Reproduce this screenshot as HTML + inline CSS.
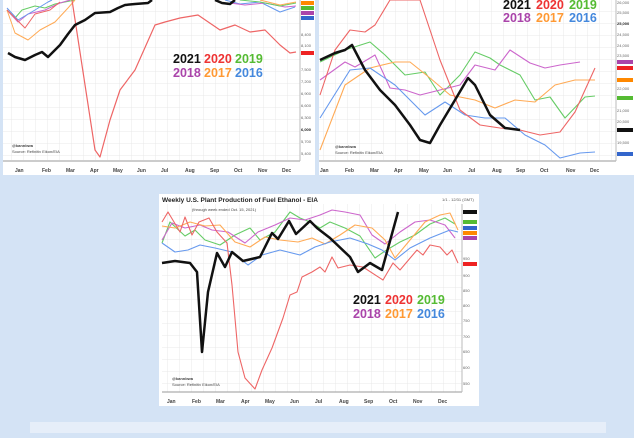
<!DOCTYPE html>
<html><head><style>
html,body{margin:0;padding:0;}
body{width:634px;height:433px;background:#d4e3f5;overflow:hidden;font-family:"Liberation Sans",sans-serif;}
</style></head><body>
<svg width="634" height="433" viewBox="0 0 634 433" xmlns="http://www.w3.org/2000/svg" font-family="Liberation Sans, sans-serif">
<defs>
<pattern id="g" width="12" height="12" patternUnits="userSpaceOnUse">
<path d="M12 0V12M0 12H12" stroke="#e2e2e2" stroke-width="0.7" fill="none"/>
</pattern>
</defs>
<rect x="30" y="422" width="576" height="11" fill="#e6eef9"/>
<!-- Left chart -->
<rect x="3" y="0" width="312" height="175" fill="#fff"/>
<rect x="3" y="0" width="297" height="160" fill="url(#g)"/>
<line x1="3" y1="161" x2="300" y2="161" stroke="#999"/>
<line x1="300" y1="0" x2="300" y2="161" stroke="#bbb"/>
<g font-size="5" fill="#444" font-weight="bold">
<text x="15" y="172">Jan</text><text x="42" y="172">Feb</text><text x="66" y="172">Mar</text><text x="90" y="172">Apr</text><text x="113" y="172">May</text><text x="137" y="172">Jun</text><text x="161" y="172">Jul</text><text x="185" y="172">Aug</text><text x="210" y="172">Sep</text><text x="234" y="172">Oct</text><text x="258" y="172">Nov</text><text x="282" y="172">Dec</text>
</g>
<g font-size="4" fill="#666"><text x="301" y="36">8,400</text><text x="301" y="47">8,100</text><text x="301" y="71">7,500</text><text x="301" y="83">7,200</text><text x="301" y="95">6,900</text><text x="301" y="107">6,600</text><text x="301" y="119">6,300</text><text x="301" y="131" font-weight="bold" fill="#222">6,000</text><text x="301" y="143">5,700</text><text x="301" y="155">5,400</text></g>
<rect x="301" y="1" width="13" height="4" fill="#f80"/><rect x="301" y="6" width="13" height="4" fill="#5b3"/><rect x="301" y="11" width="13" height="4" fill="#a4a"/><rect x="301" y="16" width="13" height="4" fill="#36c"/><rect x="301" y="51" width="13" height="4" fill="#e22"/>
<g fill="none" stroke-linejoin="round">
<polyline stroke="#6c6" stroke-width="1" points="7,10 15,18 22,10 35,6 45,8 55,4 65,2 75,0"/>
<polyline stroke="#c6c" stroke-width="1" points="7,10 18,22 28,14 45,10 60,3 70,0"/>
<polyline stroke="#fa5" stroke-width="1" points="7,10 15,33 28,40 40,30 55,22 68,8 75,0"/>
<polyline stroke="#69e" stroke-width="1" points="7,8 18,20 35,10 48,2 52,0"/>
<polyline stroke="#e66" stroke-width="1" points="7,10 25,28 35,14 50,10 60,2"/>
<polyline stroke="#69e" stroke-width="1" points="225,0 240,4 260,2 280,12 295,7"/>
<polyline stroke="#c6c" stroke-width="1" points="230,3 245,5 265,3 285,7 296,6"/>
<polyline stroke="#6c6" stroke-width="1" points="240,0 260,2 280,6 296,3"/>
<polyline stroke="#fa5" stroke-width="1" points="260,0 280,5 296,2"/>
<polyline stroke="#e66" stroke-width="1.2" points="72,0 95,150 100,157 110,120 120,90 135,70 155,25 165,22 180,18 198,15 220,30 235,25 250,32 265,30 280,45 290,53 296,52"/>
<polyline stroke="#111" stroke-width="2.5" points="8,53 15,57 25,60 35,55 42,52 48,57 60,45 68,34 75,25 85,20 95,13 110,12 118,8 125,5 135,4 148,3 152,0"/>
<polyline stroke="#111" stroke-width="2.5" points="215,0 222,3 230,4 235,0"/>
</g>
<g font-size="12.5" font-weight="bold"><text x="173" y="63" fill="#111">2021</text><text x="204" y="63" fill="#e33">2020</text><text x="235" y="63" fill="#5b3">2019</text>
<text x="173" y="77" fill="#a4a">2018</text><text x="204" y="77" fill="#f93">2017</text><text x="235" y="77" fill="#48d">2016</text></g>
<g font-size="4" fill="#444"><text x="12" y="147" font-weight="bold">@kannbwa</text><text x="12" y="153">Source: Refinitiv Eikon/EIA</text></g>
<!-- Right chart -->
<rect x="319" y="0" width="315" height="175" fill="#fff"/>
<rect x="319" y="0" width="297" height="160" fill="url(#g)"/>
<line x1="319" y1="161" x2="616" y2="161" stroke="#999"/>
<line x1="616" y1="0" x2="616" y2="161" stroke="#bbb"/>
<g font-size="5" fill="#444" font-weight="bold">
<text x="320" y="172">Jan</text><text x="345" y="172">Feb</text><text x="370" y="172">Mar</text><text x="394" y="172">Apr</text><text x="419" y="172">May</text><text x="443" y="172">Jun</text><text x="468" y="172">Jul</text><text x="492" y="172">Aug</text><text x="516" y="172">Sep</text><text x="540" y="172">Oct</text><text x="566" y="172">Nov</text><text x="590" y="172">Dec</text>
</g>
<g font-size="4" fill="#666"><text x="617" y="4">26,000</text><text x="617" y="14">25,500</text><text x="617" y="25" font-weight="bold" fill="#222">25,000</text><text x="617" y="36">24,500</text><text x="617" y="47">24,000</text><text x="617" y="57">23,500</text><text x="617" y="90">22,000</text><text x="617" y="112">21,000</text><text x="617" y="123">20,500</text><text x="617" y="144">19,500</text></g>
<rect x="617" y="60" width="16" height="4" fill="#a4a"/><rect x="617" y="66" width="16" height="4" fill="#e22"/><rect x="617" y="78" width="16" height="4" fill="#f80"/><rect x="617" y="96" width="16" height="4" fill="#5b3"/><rect x="617" y="128" width="16" height="4" fill="#111"/><rect x="617" y="152" width="16" height="4" fill="#36c"/>
<g fill="none" stroke-linejoin="round" stroke-width="1.1">
<polyline stroke="#6c6" points="320,62 345,50 370,42 385,55 405,75 425,72 440,95 460,75 475,52 490,58 500,65 520,75 535,100 550,97 565,118 585,97 595,96"/>
<polyline stroke="#c6c" points="320,80 345,62 355,67 375,55 390,88 405,90 420,95 440,90 460,85 475,65 495,70 510,50 530,63 545,68 560,65 580,62"/>
<polyline stroke="#fa5" points="320,150 345,85 370,68 395,62 410,62 430,78 450,95 475,100 495,108 515,100 535,102 555,85 575,80 595,80"/>
<polyline stroke="#69e" points="320,118 350,70 370,68 395,85 410,100 425,115 445,102 465,115 485,118 505,118 525,135 545,145 560,158 580,153 595,152"/>
<polyline stroke="#e66" points="320,95 335,50 350,30 365,32 375,25 390,0 420,0 440,60 460,110 480,125 500,128 520,130 540,135 560,132 575,112 595,68"/>
<polyline stroke="#111" stroke-width="2.5" points="320,60 335,53 345,50 352,45 365,70 380,90 395,105 410,125 420,140 430,143 440,125 455,100 468,78 475,85 490,115 505,128 520,130"/>
</g>
<g font-size="12.5" font-weight="bold"><text x="503" y="9" fill="#111">2021</text><text x="536" y="9" fill="#e33">2020</text><text x="569" y="9" fill="#5b3">2019</text>
<text x="503" y="22" fill="#a4a">2018</text><text x="536" y="22" fill="#f93">2017</text><text x="569" y="22" fill="#48d">2016</text></g>
<g font-size="4" fill="#444"><text x="335" y="148" font-weight="bold">@kannbwa</text><text x="335" y="154">Source: Refinitiv Eikon/EIA</text></g>
<!-- Bottom chart -->
<rect x="159" y="194" width="320" height="212" fill="#fff"/>
<rect x="162" y="204" width="300" height="188" fill="url(#g)"/>
<line x1="162" y1="392" x2="462" y2="392" stroke="#999"/>
<line x1="462" y1="204" x2="462" y2="392" stroke="#bbb"/>
<text x="162" y="202" font-size="6.5" font-weight="bold" fill="#222">Weekly U.S. Plant Production of Fuel Ethanol - EIA</text>
<text x="192" y="211" font-size="4" fill="#444">(through week ended Oct. 15, 2021)</text>
<text x="442" y="201" font-size="4" fill="#555">1/1 - 12/31 (GMT)</text>
<g font-size="5" fill="#444" font-weight="bold">
<text x="167" y="403">Jan</text><text x="192" y="403">Feb</text><text x="216" y="403">Mar</text><text x="241" y="403">Apr</text><text x="265" y="403">May</text><text x="290" y="403">Jun</text><text x="315" y="403">Jul</text><text x="339" y="403">Aug</text><text x="364" y="403">Sep</text><text x="389" y="403">Oct</text><text x="413" y="403">Nov</text><text x="438" y="403">Dec</text>
</g>
<g font-size="4" fill="#666"><text x="463" y="260">950</text><text x="463" y="277">900</text><text x="463" y="292">850</text><text x="463" y="307">800</text><text x="463" y="322">750</text><text x="463" y="338">700</text><text x="463" y="353">650</text><text x="463" y="369">600</text><text x="463" y="385">550</text></g>
<rect x="463" y="210" width="14" height="4" fill="#111"/><rect x="463" y="220" width="14" height="4" fill="#5b3"/><rect x="463" y="226" width="14" height="4" fill="#36c"/><rect x="463" y="231" width="14" height="4" fill="#f80"/><rect x="463" y="236" width="14" height="4" fill="#a4a"/><rect x="463" y="262" width="14" height="4" fill="#e22"/>
<g fill="none" stroke-linejoin="round" stroke-width="1.1">
<polyline stroke="#6c6" points="162,243 170,222 185,236 195,230 205,240 220,245 235,235 250,228 260,240 275,232 290,212 300,218 310,222 320,228 330,222 345,228 360,236 375,258 385,251 400,242 415,235 430,224 445,218 455,224"/>
<polyline stroke="#c6c" points="162,240 172,223 185,228 200,225 212,230 228,232 245,243 258,232 275,225 290,218 305,220 320,215 332,210 345,212 360,215 372,235 385,244 400,232 415,222 430,220 445,225 455,238"/>
<polyline stroke="#fa5" points="162,226 175,228 190,222 205,226 220,225 235,242 250,247 265,237 280,240 298,242 312,238 325,244 340,235 355,225 372,228 385,240 395,258 410,240 425,222 440,215 450,213 458,230"/>
<polyline stroke="#69e" points="162,243 175,252 188,250 200,245 215,248 232,252 248,265 262,255 280,250 300,255 315,247 330,242 350,238 368,244 382,250 395,260 410,248 430,238 450,230 458,232"/>
<polyline stroke="#e66" points="162,222 168,212 180,232 185,217 192,235 199,222 209,218 217,232 227,243 232,285 238,352 245,378 255,389 262,370 272,348 283,318 290,295 297,292 302,277 312,272 320,267 325,272 332,257 338,268 350,265 363,267 383,280 393,263 400,270 417,250 423,255 430,245 440,247 447,255 452,250 458,263"/>
<polyline stroke="#111" stroke-width="2.5" points="162,263 175,261 190,263 197,272 202,352 208,292 217,253 225,267 232,252 243,261 260,257 272,233 278,239 289,221 296,234 310,221 317,228 330,238 350,257 358,272 370,263 382,270 398,212"/>
</g>
<g font-size="12.5" font-weight="bold"><text x="353" y="304" fill="#111">2021</text><text x="385" y="304" fill="#e33">2020</text><text x="417" y="304" fill="#5b3">2019</text>
<text x="353" y="318" fill="#a4a">2018</text><text x="385" y="318" fill="#f93">2017</text><text x="417" y="318" fill="#48d">2016</text></g>
<g font-size="4" fill="#444"><text x="172" y="380" font-weight="bold">@kannbwa</text><text x="172" y="386">Source: Refinitiv Eikon/EIA</text></g>
</svg>
</body></html>
